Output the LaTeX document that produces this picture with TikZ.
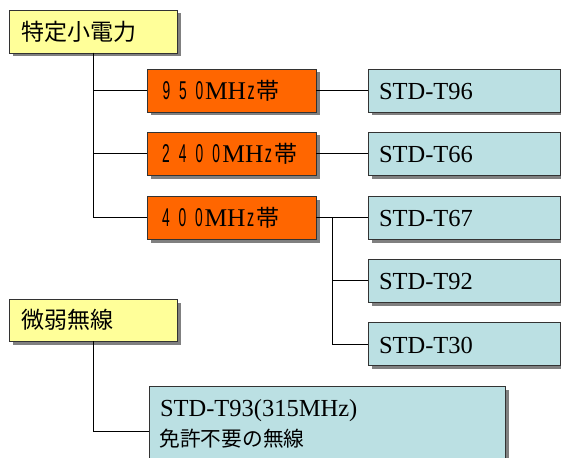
\documentclass[tikz,border=0pt]{standalone}
\usepackage{fontspec}
\setmainfont{Liberation Serif}
\newfontfamily\jp{Noto Sans CJK JP}
\newfontfamily\lsans{Liberation Sans}
\usetikzlibrary{shadows}
\definecolor{ylw}{HTML}{FFFF99}
\definecolor{org}{HTML}{FF6600}
\definecolor{lbl}{HTML}{BBE0E3}
\definecolor{shd}{HTML}{808080}
\newcommand\dgt[2]{\makebox[#1][l]{\scalebox{0.6}[1.12]{\lsans #2}}}
\newcommand\mhz{{\rmfamily\fontsize{25.5}{28}\selectfont MH}\hspace{1.5pt}\scalebox{0.62}[1.1]{\lsans z}\hspace{2pt}{\jp 帯}}
\begin{document}
\begin{tikzpicture}[x=1pt,y=-1pt,
  box/.style={draw=black!80,line width=0.8pt,inner sep=0pt,outer sep=0pt,
    drop shadow={shadow xshift=3.5pt,shadow yshift=-3.5pt,fill=shd,opacity=1}},
  ybox/.style={box,fill=ylw,minimum width=168pt,minimum height=43pt},
  obox/.style={box,fill=org,minimum width=169pt,minimum height=43pt},
  sbox/.style={box,fill=lbl,minimum width=192pt,minimum height=43pt},
  txt/.style={anchor=base west,inner sep=0pt,outer sep=0pt},
  jtxt/.style={txt,font=\jp\fontsize{23}{26}\selectfont},
  otxt/.style={txt,font=\fontsize{23}{26}\selectfont},
  stxt/.style={txt,font=\fontsize{24.5}{28}\selectfont},
  conn/.style={draw=black,line width=0.9pt}]
\clip (0,0) rectangle (561,457);
\useasboundingbox (0,0) rectangle (561,457);
% boxes
\node[ybox] (A) at (93,31.5) {};
\node[obox] (o1) at (231.5,90.5) {};
\node[obox] (o2) at (231.5,153.5) {};
\node[obox] (o3) at (231.5,217.5) {};
\node[sbox] (s1) at (464,90.5) {};
\node[sbox] (s2) at (464,153.5) {};
\node[sbox] (s3) at (464,217.5) {};
\node[sbox] (s4) at (464,280.5) {};
\node[sbox] (s5) at (464,344) {};
\node[ybox,minimum height=42pt] (B) at (93,320) {};
\node[sbox,minimum width=356pt,minimum height=90pt] (C) at (327,431) {};
% texts
\node[jtxt] (tA) at (21.5,40.4) {特定小電力};
\node[jtxt] (tB) at (21.5,328) {微弱無線};
\node[otxt] (to1) at (162.5,99.3) {\dgt{16.5pt}{9}\dgt{16.5pt}{5}\dgt{9.5pt}{0}\mhz};
\node[otxt] (to2) at (162,162.3) {\dgt{16.8pt}{2}\dgt{16.8pt}{4}\dgt{16.8pt}{0}\dgt{10pt}{0}\mhz};
\node[otxt] (to3) at (162,226.3) {\dgt{16.5pt}{4}\dgt{16.5pt}{0}\dgt{9.5pt}{0}\mhz};
\node[stxt] (ts1) at (379,99.3) {STD-T96};
\node[stxt] (ts2) at (379,162.3) {STD-T66};
\node[stxt] (ts3) at (379,226.3) {STD-T67};
\node[stxt] (ts4) at (379,289.3) {STD-T92};
\node[stxt] (ts5) at (379,353) {STD-T30};
\node[stxt] (tC1) at (160,416.7) {STD-T93(315MHz)};
\node[jtxt,font=\jp\fontsize{20.7}{24}\selectfont] (tC2) at (159.5,446) {免許不要の無線};
% connectors
\draw[conn] (A.south) |- (o1.west);
\draw[conn] (A.south) |- (o2.west);
\draw[conn] (A.south) |- (o3.west);
\draw[conn] (o1.east) -- (s1.west);
\draw[conn] (o2.east) -- (s2.west);
\draw[conn] (o3.east) -- (s3.west);
\coordinate (br) at (332,217.5);
\draw[conn] (br) |- (s4.west);
\draw[conn] (br) |- (s5.west);
\draw[conn] (B.south) |- (C.west);
\end{tikzpicture}
\end{document}
